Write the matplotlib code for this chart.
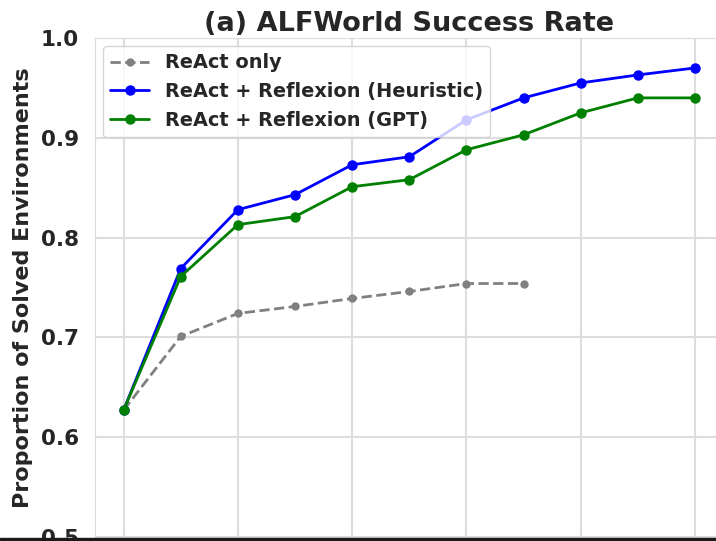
import numpy as np
import matplotlib
matplotlib.use("Agg")
import matplotlib.pyplot as plt
import seaborn as sns
from matplotlib.patches import Rectangle

# trial index and success rates
trials = list(range(11))
react_trials = list(range(8))
react_only = [0.627, 0.701, 0.724, 0.731, 0.739, 0.746, 0.754, 0.754]
reflexion_heuristic = [0.627, 0.769, 0.828, 0.843, 0.873, 0.881, 0.918, 0.940, 0.955, 0.963, 0.970]
reflexion_gpt = [0.627, 0.761, 0.813, 0.821, 0.851, 0.858, 0.888, 0.903, 0.925, 0.940, 0.940]
yticks = [0.5, 0.6, 0.7, 0.8, 0.9, 1.0]
xticks = [0, 2, 4, 6, 8, 10]

sns.set_style("whitegrid")
plt.rcParams['font.family'] = ['DejaVu Sans']
plt.rcParams['font.weight'] = 'bold'

fig = plt.figure(figsize=(7.16, 5.41), dpi=100)
# the original figure is cropped, so the axes run past the right and bottom edge
ax = fig.add_axes([95 / 716, 4 / 541, 628.6 / 716, 499 / 541])

ax.plot(react_trials, react_only, color='grey', linestyle='--', marker='o',
        markersize=5, linewidth=2, label='ReAct only')
ax.plot(trials, reflexion_heuristic, color='blue', marker='o',
        markersize=6.5, linewidth=2, label='ReAct + Reflexion (Heuristic)')
ax.plot(trials, reflexion_gpt, color='green', marker='o',
        markersize=6.5, linewidth=2, label='ReAct + Reflexion (GPT)')

ax.set_xlim(-0.5, 10.5)
ax.set_ylim(0.5, 1.0)
ax.set_xticks(xticks)
ax.set_xticklabels([''] * len(xticks))  # tick labels lie below the crop
ax.set_yticks(yticks)
ax.set_yticklabels(['%.1f' % v for v in yticks], fontsize=15.5, fontweight='bold')
ax.tick_params(axis='y', pad=8)
ax.set_ylabel('Proportion of Solved Environments', fontsize=16, fontweight='bold', labelpad=6)
ax.set_title('(a) ALFWorld Success Rate', fontsize=19.5, fontweight='bold', pad=5)

for s in ax.spines.values():
    s.set_color('#dddddd')
ax.grid(color='#dddddd', linewidth=1.5)

ax.legend(loc='upper left', prop={'size': 13.9, 'weight': 'bold'}, framealpha=0.8,
          borderaxespad=0.4)

# dark strip at the very bottom of the frame
fig.patches.append(Rectangle((0, 0), 1, 3 / 541, transform=fig.transFigure,
                             color='#1a1a1a', zorder=10))

fig.savefig('out.png', dpi=100)
